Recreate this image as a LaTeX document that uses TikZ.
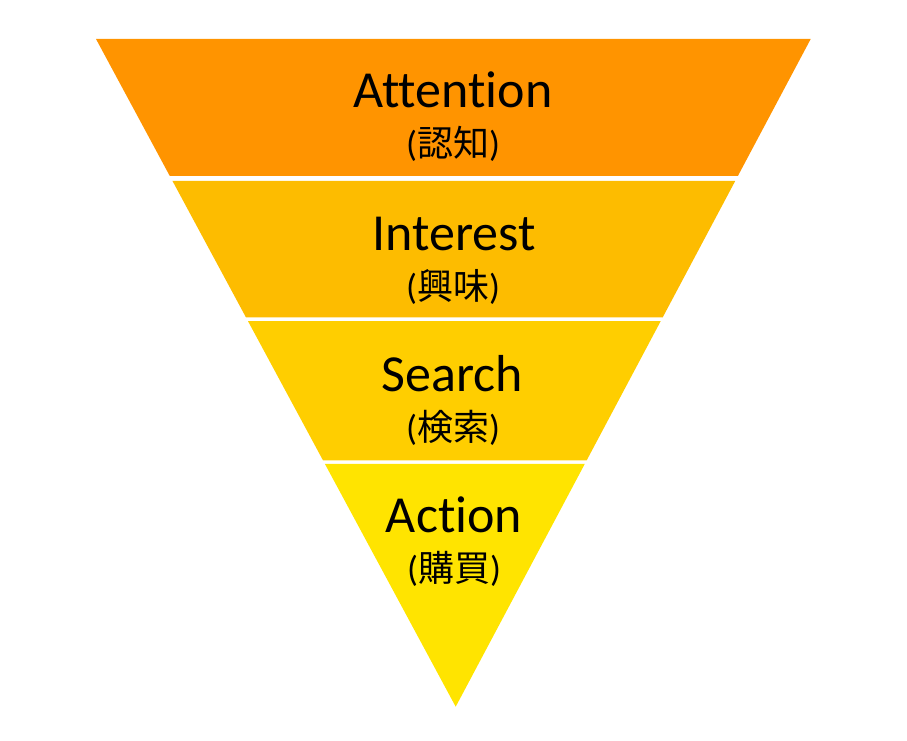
\documentclass[tikz,border=0pt]{standalone}
\usepackage{fontspec}
\setmainfont{Carlito}[Ligatures=NoCommon]
\newfontfamily\cjkfont{Noto Sans CJK JP}
\usetikzlibrary{calc}
\definecolor{bandA}{RGB}{255,148,0}
\definecolor{bandB}{RGB}{253,188,0}
\definecolor{bandC}{RGB}{255,206,0}
\definecolor{bandD}{RGB}{255,228,0}
\tikzset{
  bigtext/.style={anchor=base, inner sep=0pt, font=\fontsize{52}{56}\selectfont, text=black},
  subtext/.style={anchor=base, inner sep=0pt, font=\fontsize{36}{40}\selectfont, text=black},
}
\newcommand{\band}[3]{%
  \fill[#1] ($(TL)!#2!(AP)$) -- ($(TR)!#2!(AP)$) -- ($(TR)!#3!(AP)$) -- ($(TL)!#3!(AP)$) -- cycle;}
\begin{document}
\begin{tikzpicture}[x=1pt,y=-1pt]
\useasboundingbox (0,0) rectangle (907,741);
\coordinate (TL) at (96,39);
\coordinate (TR) at (810.7,39);
\coordinate (AP) at (455.7,706.7);
\band{bandA}{0}{0.2051}
\band{bandB}{0.2126}{0.4168}
\band{bandC}{0.4227}{0.6312}
\band{bandD}{0.6362}{1}
\node[bigtext] (t1) at (453,108) {Attention};
\node[subtext] (s1) at (453,157) {(\cjkfont 認知\rmfamily)};
\node[bigtext] (t2) at (454,250) {Interest};
\node[subtext] (s2) at (453,299) {(\cjkfont 興味\rmfamily)};
\node[bigtext] (t3) at (452,391) {Search};
\node[subtext] (s3) at (453,440) {(\cjkfont 検索\rmfamily)};
\node[bigtext] (t4) at (454,532) {Action};
\node[subtext] (s4) at (454,581) {(\cjkfont 購買\rmfamily)};
\end{tikzpicture}
\end{document}
